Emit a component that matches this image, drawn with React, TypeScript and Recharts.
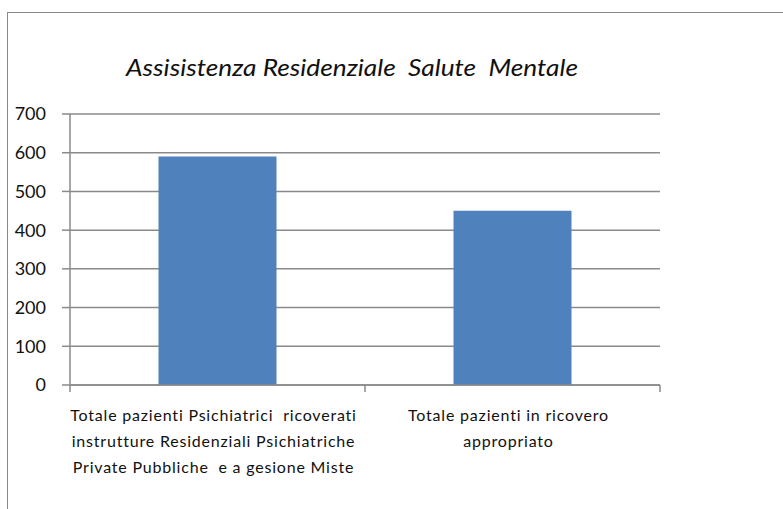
import React from "react";
import { BarChart, Bar, XAxis, YAxis, CartesianGrid } from "recharts";

const categories = [
  "Totale pazienti Psichiatrici  ricoverati\ninstrutture Residenziali Psichiatriche\nPrivate Pubbliche  e a gesione Miste",
  "Totale pazienti in ricovero\nappropriato",
];
const values = [590, 450];
const yTicks = [0, 100, 200, 300, 400, 500, 600, 700];
const title = "Assisistenza Residenziale  Salute  Mentale";

const data = categories.map((name, i) => ({ name, value: values[i] }));

const W = 783;
const H = 509;
const PLOT_LEFT = 70;
const PLOT_RIGHT = 660;
const PLOT_TOP = 114;
const PLOT_BOTTOM = 385;
const GRAY = "#8a8a8a";
const FONT = "Lato, 'Open Sans', sans-serif";
const HALF_BAND = (PLOT_RIGHT - PLOT_LEFT) / categories.length / 2;

function CategoryTick(props: any) {
  const { x, y, payload, index } = props;
  const lines = String(payload.value).split("\n");
  return (
    <g>
      {index === 0 && (
        <line x1={x - HALF_BAND} x2={x - HALF_BAND} y1={PLOT_BOTTOM} y2={PLOT_BOTTOM + 7} stroke={GRAY} strokeWidth={1.5} />
      )}
      <line x1={x + HALF_BAND} x2={x + HALF_BAND} y1={PLOT_BOTTOM} y2={PLOT_BOTTOM + 7} stroke={GRAY} strokeWidth={1.5} />
      <text x={x} y={y} textAnchor="middle" fontFamily={FONT} fontSize={16} letterSpacing={0.8} fill="#111">
        {lines.map((l, i) => (
          <tspan key={i} x={x - 4} dy={i === 0 ? 28 : 26} style={{ whiteSpace: "pre" }}>
            {l}
          </tspan>
        ))}
      </text>
    </g>
  );
}

export default function App() {
  return (
    <div style={{ position: "absolute", left: 0, top: 0, width: W, height: H, background: "#fff" }}>
      <div
        style={{
          position: "absolute",
          left: 7,
          top: 12,
          width: W - 7,
          height: H - 12,
          borderTop: `1.5px solid ${GRAY}`,
          borderLeft: `1.5px solid ${GRAY}`,
        }}
      />
      <svg width={W} height={H} style={{ position: "absolute", left: 0, top: 0 }}>
        <text
          x={352}
          y={76}
          textAnchor="middle"
          fontFamily={FONT}
          fontStyle="italic"
          fontSize={23}
          fill="#111"
          textLength={452}
          lengthAdjust="spacingAndGlyphs"
          style={{ whiteSpace: "pre" }}
        >
          {title}
        </text>
      </svg>
      <div style={{ position: "absolute", left: 0, top: 0 }}>
        <BarChart
          width={W}
          height={H}
          data={data}
          margin={{ top: PLOT_TOP, right: W - PLOT_RIGHT, bottom: 0, left: 0 }}
          barCategoryGap="30%"
        >
          <CartesianGrid vertical={false} stroke={GRAY} strokeWidth={1.5} strokeDasharray="" />
          <XAxis
            dataKey="name"
            height={H - PLOT_BOTTOM}
            interval={0}
            tickLine={false}
            axisLine={{ stroke: GRAY, strokeWidth: 1.5 }}
            tick={<CategoryTick />}
          />
          <YAxis
            width={PLOT_LEFT}
            domain={[0, 700]}
            ticks={yTicks}
            interval={0}
            tickSize={8}
            tickMargin={16}
            tickLine={{ stroke: GRAY, strokeWidth: 1.5 }}
            axisLine={{ stroke: GRAY, strokeWidth: 1.5 }}
            tick={{ fontFamily: FONT, fontSize: 18, fill: "#111" }}
          />
          <Bar dataKey="value" fill="#4f81bd" isAnimationActive={false} />
        </BarChart>
      </div>
    </div>
  );
}
